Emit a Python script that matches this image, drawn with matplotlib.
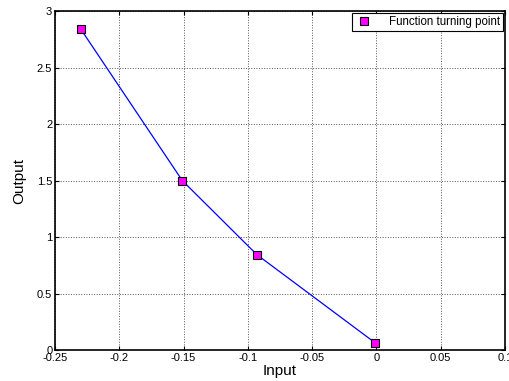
import matplotlib
matplotlib.use("Agg")
import matplotlib.pyplot as plt

plt.rcParams['font.family'] = ['Liberation Sans', 'DejaVu Sans']

# Turning points of the function
inputs = [-0.230, -0.151, -0.093, -0.001]
outputs = [2.84, 1.50, 0.845, 0.065]

x_ticks = [-0.25, -0.2, -0.15, -0.1, -0.05, 0, 0.05, 0.1]
x_tick_labels = ['-0.25', '-0.2', '-0.15', '-0.1', '-0.05', '0', '0.05', '0.1']
y_ticks = [0, 0.5, 1, 1.5, 2, 2.5, 3]
y_tick_labels = ['0', '0.5', '1', '1.5', '2', '2.5', '3']

fig = plt.figure(figsize=(5.1, 3.81), dpi=100)
ax = fig.add_axes([0.108, 0.081, 0.882, 0.890])

ax.plot(inputs, outputs, color='blue', linewidth=0.9, zorder=2)
ax.plot(inputs, outputs, linestyle='none', marker='s', markersize=5.5,
        markerfacecolor='#ff00ff', markeredgecolor='black', markeredgewidth=0.8,
        label='Function turning point', zorder=3)

ax.set_xlim(-0.25, 0.1)
ax.set_ylim(0, 3)
ax.set_xticks(x_ticks)
ax.set_xticklabels(x_tick_labels)
ax.set_yticks(y_ticks)
ax.set_yticklabels(y_tick_labels)

ax.grid(True, linestyle=':', color='#555555', linewidth=0.7)
ax.tick_params(direction='in', length=3, labelsize=8, top=True, right=True, pad=2)
for s in ax.spines.values():
    s.set_linewidth(1.2)

ax.set_xlabel('Input', fontsize=11, labelpad=1)
ax.set_ylabel('Output', fontsize=11, labelpad=8)

leg = ax.legend(loc='upper right', fontsize=8.3, fancybox=False, edgecolor='black',
                framealpha=1, borderaxespad=0.15, handletextpad=1.4, borderpad=0.25,
                handlelength=1.6)
leg.get_frame().set_linewidth(0.8)

fig.savefig('out.png', dpi=100)
